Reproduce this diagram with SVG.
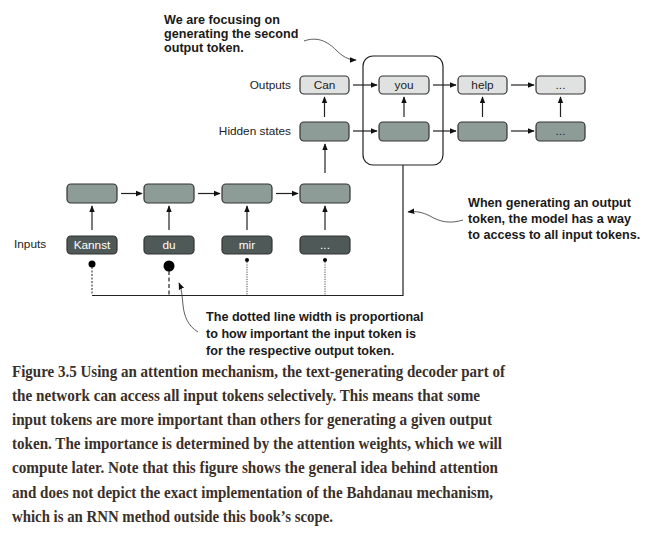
<svg xmlns="http://www.w3.org/2000/svg" width="659" height="534" viewBox="0 0 659 534">
<style>
.lbl{font-family:"Liberation Sans",Arial,sans-serif;font-size:11.8px;fill:#222}
.note{font-family:"Liberation Sans",Arial,sans-serif;font-size:12.6px;font-weight:bold;fill:#1a1a1a}
.out{fill:#e0e2e1;stroke:#333;stroke-width:1.2}
.hid{fill:#8e9c98;stroke:#333;stroke-width:1.2}
.inp{fill:#4f5957;stroke:#333;stroke-width:1.2}
.bt{font-family:"Liberation Sans",Arial,sans-serif;font-size:11.8px;text-anchor:middle}
.ln{stroke:#222;stroke-width:1.2;fill:none}
.cap{font-family:"Liberation Serif","Times New Roman",serif;font-size:16.5px;font-weight:bold;fill:#3b2f2a}
</style>
<defs>
<marker id="ah" viewBox="0 0 10 10" refX="9" refY="5" markerWidth="7" markerHeight="7" markerUnits="userSpaceOnUse" orient="auto">
<path d="M0,1 L10,5 L0,9 z" fill="#111"/>
</marker>
</defs>
<rect width="659" height="534" fill="#fff"/>

<g id="highlight"><rect x="363" y="56" width="80" height="109" rx="10" fill="none" stroke="#222" stroke-width="1.2"/></g>

<g id="labels">
<text class="lbl" x="291" y="89" text-anchor="end">Outputs</text>
<text class="lbl" x="291" y="135" text-anchor="end">Hidden states</text>
<text class="lbl" x="14" y="248">Inputs</text>
</g>

<g id="out-can"><rect class="out" x="300" y="76" width="49" height="18" rx="4"/><text class="bt" x="324.5" y="89" fill="#222">Can</text></g>
<g id="out-you"><rect class="out" x="379" y="76" width="50" height="18" rx="4"/><text class="bt" x="404" y="89" fill="#222">you</text></g>
<g id="out-help"><rect class="out" x="458" y="76" width="49" height="18" rx="4"/><text class="bt" x="482.5" y="89" fill="#222">help</text></g>
<g id="out-dots"><rect class="out" x="536" y="76" width="49" height="18" rx="4"/><text class="bt" x="560.5" y="89" fill="#222">...</text></g>

<g id="hid-1"><rect class="hid" x="300" y="122" width="49" height="19" rx="4"/></g>
<g id="hid-2"><rect class="hid" x="379" y="122" width="50" height="19" rx="4"/></g>
<g id="hid-3"><rect class="hid" x="458" y="122" width="49" height="19" rx="4"/></g>
<g id="hid-4"><rect class="hid" x="536" y="122" width="49" height="19" rx="4"/><text class="bt" x="560.5" y="135" fill="#222">...</text></g>

<g id="enc-1"><rect class="hid" x="67" y="184" width="50" height="19" rx="4"/></g>
<g id="enc-2"><rect class="hid" x="144" y="184" width="50" height="19" rx="4"/></g>
<g id="enc-3"><rect class="hid" x="222" y="184" width="50" height="19" rx="4"/></g>
<g id="enc-4"><rect class="hid" x="300" y="184" width="50" height="19" rx="4"/></g>

<g id="in-kannst"><rect class="inp" x="67" y="236" width="50" height="18" rx="4"/><text class="bt" x="92" y="249" fill="#fff">Kannst</text></g>
<g id="in-du"><rect class="inp" x="144" y="236" width="50" height="18" rx="4"/><text class="bt" x="169" y="249" fill="#fff">du</text></g>
<g id="in-mir"><rect class="inp" x="222" y="236" width="50" height="18" rx="4"/><text class="bt" x="247" y="249" fill="#fff">mir</text></g>
<g id="in-dots"><rect class="inp" x="300" y="236" width="50" height="18" rx="4"/><text class="bt" x="325" y="249" fill="#fff">...</text></g>

<g id="connectors">
<line class="ln" x1="353" y1="85" x2="377" y2="85" marker-end="url(#ah)"/>
<line class="ln" x1="433" y1="85" x2="456" y2="85" marker-end="url(#ah)"/>
<line class="ln" x1="511" y1="85" x2="534" y2="85" marker-end="url(#ah)"/>
<line class="ln" x1="353" y1="131" x2="377" y2="131" marker-end="url(#ah)"/>
<line class="ln" x1="433" y1="131" x2="456" y2="131" marker-end="url(#ah)"/>
<line class="ln" x1="511" y1="131" x2="534" y2="131" marker-end="url(#ah)"/>
<line class="ln" x1="324.5" y1="117" x2="324.5" y2="97" marker-end="url(#ah)"/>
<line class="ln" x1="404" y1="117" x2="404" y2="97" marker-end="url(#ah)"/>
<line class="ln" x1="482.5" y1="117" x2="482.5" y2="97" marker-end="url(#ah)"/>
<line class="ln" x1="560.5" y1="117" x2="560.5" y2="97" marker-end="url(#ah)"/>
<line class="ln" x1="325" y1="173" x2="325" y2="144" marker-end="url(#ah)"/>
<line class="ln" x1="121" y1="193.5" x2="142" y2="193.5" marker-end="url(#ah)"/>
<line class="ln" x1="198" y1="193.5" x2="220" y2="193.5" marker-end="url(#ah)"/>
<line class="ln" x1="276" y1="193.5" x2="298" y2="193.5" marker-end="url(#ah)"/>
<line class="ln" x1="92" y1="230" x2="92" y2="206" marker-end="url(#ah)"/>
<line class="ln" x1="169" y1="230" x2="169" y2="206" marker-end="url(#ah)"/>
<line class="ln" x1="247" y1="230" x2="247" y2="206" marker-end="url(#ah)"/>
<line class="ln" x1="325" y1="230" x2="325" y2="206" marker-end="url(#ah)"/>
<circle cx="92" cy="264" r="3.5" fill="#000"/>
<circle cx="169" cy="266" r="5.5" fill="#000"/>
<circle cx="247" cy="260" r="2" fill="#000"/>
<circle cx="325" cy="260" r="2" fill="#000"/>
<line x1="92" y1="267" x2="92" y2="295" stroke="#222" stroke-width="1" stroke-dasharray="2,1.5"/>
<line x1="169" y1="271" x2="169" y2="295" stroke="#222" stroke-width="1.2" stroke-dasharray="4,2.5"/>
<line x1="247" y1="262" x2="247" y2="295" stroke="#222" stroke-width="0.8" stroke-dasharray="1.2,1.2"/>
<line x1="325" y1="262" x2="325" y2="295" stroke="#222" stroke-width="0.8" stroke-dasharray="1.2,1.2"/>
<path class="ln" d="M92,295.5 H403 V165"/>
<path d="M304,41 C318,36 328,42 336,50 C342,56 348,60 356,60" fill="none" stroke="#333" stroke-width="0.8" marker-end="url(#ah)"/>
<path d="M463,220 C450,224 440,222 430,216 C422,212 416,211 408,212" fill="none" stroke="#333" stroke-width="0.8" marker-end="url(#ah)"/>
<path d="M198,332 C188,326 184,316 183,305 C182,296 182,290 179,283" fill="none" stroke="#333" stroke-width="0.8" marker-end="url(#ah)"/>
</g>

<g id="notes">
<text class="note" x="164" y="24">We are focusing on</text>
<text class="note" x="164" y="38">generating the second</text>
<text class="note" x="164" y="52">output token.</text>
<text class="note" x="468" y="207">When generating an output</text>
<text class="note" x="468" y="223">token, the model has a way</text>
<text class="note" x="468" y="239">to access to all input tokens.</text>
<text class="note" x="206" y="321">The dotted line width is proportional</text>
<text class="note" x="206" y="338">to how important the input token is</text>
<text class="note" x="206" y="355">for the respective output token.</text>
</g>

<g id="caption">
<text class="cap" x="12" y="377" textLength="493" lengthAdjust="spacingAndGlyphs">Figure 3.5 Using an attention mechanism, the text-generating decoder part of</text>
<text class="cap" x="12" y="401" textLength="468" lengthAdjust="spacingAndGlyphs">the network can access all input tokens selectively. This means that some</text>
<text class="cap" x="12" y="425" textLength="480" lengthAdjust="spacingAndGlyphs">input tokens are more important than others for generating a given output</text>
<text class="cap" x="12" y="449" textLength="490" lengthAdjust="spacingAndGlyphs">token. The importance is determined by the attention weights, which we will</text>
<text class="cap" x="12" y="473" textLength="486" lengthAdjust="spacingAndGlyphs">compute later. Note that this figure shows the general idea behind attention</text>
<text class="cap" x="12" y="498" textLength="481" lengthAdjust="spacingAndGlyphs">and does not depict the exact implementation of the Bahdanau mechanism,</text>
<text class="cap" x="12" y="522" textLength="321" lengthAdjust="spacingAndGlyphs">which is an RNN method outside this book’s scope.</text>
</g>
</svg>
